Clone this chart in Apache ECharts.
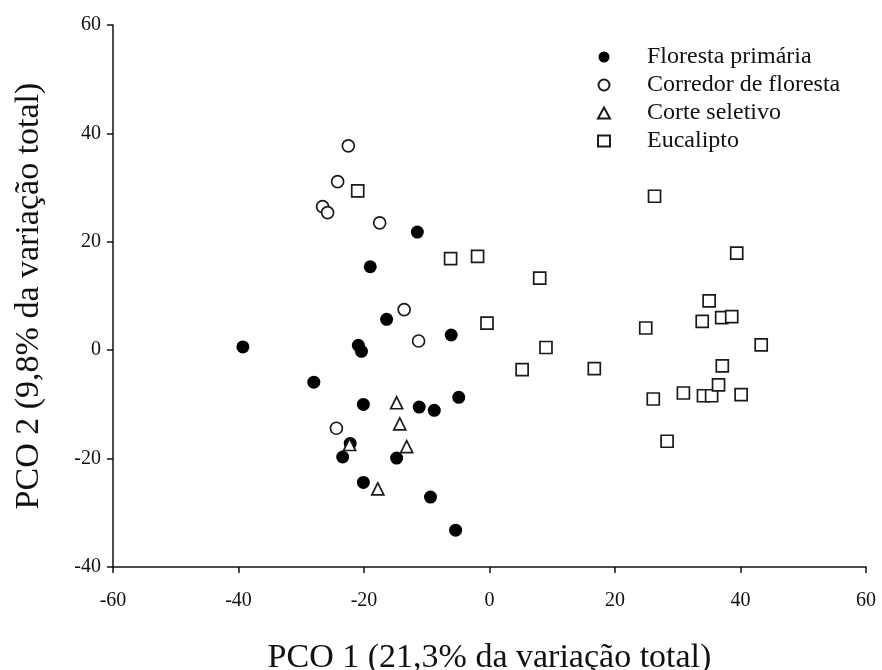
<!DOCTYPE html>
<html><head><meta charset="utf-8">
<script src="https://cdn.jsdelivr.net/npm/echarts@6/dist/echarts.min.js"></script>
<style>html,body{margin:0;padding:0;background:#fff}#c{width:882px;height:670px}</style>
</head><body><div id="c"></div>
<script>
const seriesNames = ['Floresta primária','Corredor de floresta','Corte seletivo','Eucalipto'];
const florestaPrimaria = [[-39.3,0.6],[-28.0,-5.9],[-11.5,21.8],[-19.0,15.4],[-16.4,5.7],[-20.9,0.9],[-20.4,-0.2],[-6.1,2.8],[-20.1,-10.0],[-11.2,-10.5],[-8.8,-11.1],[-4.9,-8.7],[-22.2,-17.2],[-23.4,-19.7],[-14.8,-19.9],[-20.1,-24.4],[-9.4,-27.1],[-5.4,-33.2]];
const corredorFloresta = [[-22.5,37.7],[-24.2,31.1],[-26.6,26.5],[-25.8,25.4],[-17.5,23.5],[-13.6,7.5],[-11.3,1.7],[-24.4,-14.4]];
const corteSeletivo = [[-14.8,-9.7],[-14.3,-13.6],[-13.2,-17.8],[-22.3,-17.4],[-17.8,-25.6]];
const eucalipto = [[-21.0,29.4],[-6.2,16.9],[-1.9,17.3],[8.0,13.3],[-0.4,5.0],[9.0,0.5],[5.2,-3.6],[16.7,-3.4],[26.3,28.4],[39.4,17.9],[35.0,9.1],[33.9,5.3],[37.0,6.0],[38.6,6.2],[24.9,4.1],[43.3,1.0],[37.1,-2.9],[26.1,-9.0],[30.9,-7.9],[34.1,-8.4],[35.4,-8.4],[36.5,-6.4],[40.1,-8.2],[28.3,-16.8]];
const xTicks = {min:-60,max:60,interval:20};
const yTicks = {min:-40,max:60,interval:20};

const serif = 'Liberation Serif';
const chart = echarts.init(document.getElementById('c'));
const openStyle = {color:'#fff', borderColor:'#1a1a1a', borderWidth:1.7, opacity:1};
chart.setOption({
  animation:false,
  backgroundColor:'#fff',
  grid:{left:113,right:16,top:25,bottom:103,containLabel:false,outerBoundsMode:'none'},
  legend:{
    orient:'vertical', left:592, top:40, itemGap:4, itemWidth:12, itemHeight:11,
    textStyle:{fontFamily:serif,fontSize:24,color:'#111',padding:[0,0,0,32]},
    data:seriesNames
  },
  xAxis:{
    type:'value', min:xTicks.min, max:xTicks.max, interval:xTicks.interval,
    name:'PCO 1 (21,3% da variação total)', nameLocation:'middle', nameGap:74,
    nameTextStyle:{fontFamily:serif,fontSize:34,color:'#111'},
    axisLine:{show:true,onZero:false,lineStyle:{color:'#111',width:1.5}},
    axisTick:{show:true,length:6,lineStyle:{color:'#111',width:1.5}},
    axisLabel:{fontFamily:serif,fontSize:20,color:'#111',margin:24},
    splitLine:{show:false}
  },
  yAxis:{
    type:'value', min:yTicks.min, max:yTicks.max, interval:yTicks.interval,
    name:'PCO 2 (9,8% da variação total)', nameLocation:'middle', nameGap:67,
    nameTextStyle:{fontFamily:serif,fontSize:34,color:'#111'},
    axisLine:{show:true,onZero:false,lineStyle:{color:'#111',width:1.5}},
    axisTick:{show:true,length:6,lineStyle:{color:'#111',width:1.5}},
    axisLabel:{fontFamily:serif,fontSize:20,color:'#111',margin:12},
    splitLine:{show:false}
  },
  series:[
    {name:seriesNames[0],type:'scatter',symbol:'circle',symbolSize:13,data:florestaPrimaria,itemStyle:{color:'#000',opacity:1}},
    {name:seriesNames[1],type:'scatter',symbol:'circle',symbolSize:12,data:corredorFloresta,itemStyle:openStyle},
    {name:seriesNames[2],type:'scatter',symbol:'triangle',symbolSize:12,data:corteSeletivo,itemStyle:openStyle},
    {name:seriesNames[3],type:'scatter',symbol:'rect',symbolSize:12,data:eucalipto,itemStyle:openStyle}
  ]
});
</script></body></html>
